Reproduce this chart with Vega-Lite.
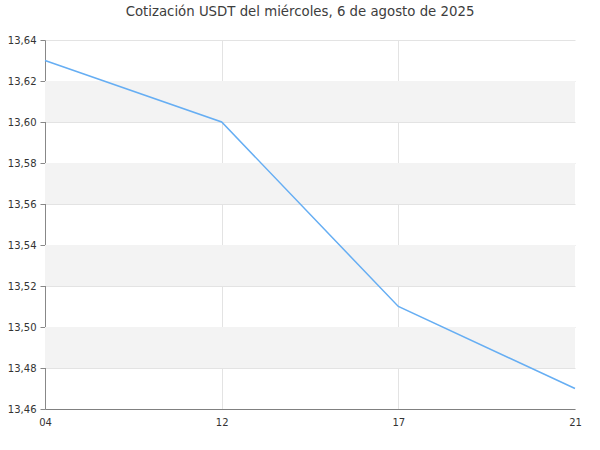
{
  "$schema": "https://vega.github.io/schema/vega-lite/v6.json",
  "width": 530,
  "height": 369,
  "autosize": {"type": "none"},
  "padding": {"left": 45, "top": 40, "right": 25, "bottom": 41},
  "background": "white",
  "title": {
    "text": "Cotización USDT del miércoles, 6 de agosto de 2025",
    "font": "DejaVu Sans",
    "fontSize": 13.3,
    "fontWeight": "normal",
    "color": "#3d3d3d",
    "anchor": "middle",
    "frame": "group",
    "dx": -10,
    "offset": 17
  },
  "config": {
    "view": {"stroke": null},
    "axis": {
      "labelFont": "DejaVu Sans",
      "labelFontSize": 10,
      "labelColor": "#333333",
      "domainColor": "#888888",
      "gridColor": "#e3e3e3",
      "tickColor": "#888888"
    }
  },
  "layer": [
    {
      "data": {"values": [
        {"desde": 13.48, "hasta": 13.50},
        {"desde": 13.52, "hasta": 13.54},
        {"desde": 13.56, "hasta": 13.58},
        {"desde": 13.60, "hasta": 13.62}
      ]},
      "mark": {"type": "rect", "color": "#f3f3f3"},
      "encoding": {
        "y": {"field": "desde", "type": "quantitative", "scale": {"domain": [13.46, 13.64], "nice": false, "zero": false}},
        "y2": {"field": "hasta"}
      }
    },
    {
      "data": {"values": [
        {"hora": "04", "precio": 13.63},
        {"hora": "12", "precio": 13.60},
        {"hora": "17", "precio": 13.51},
        {"hora": "21", "precio": 13.47}
      ]},
      "mark": {"type": "line", "color": "#66aef3", "strokeWidth": 1.5},
      "encoding": {
        "x": {
          "field": "hora",
          "type": "ordinal",
          "scale": {"type": "point", "padding": 0},
          "axis": {
            "title": null,
            "labelAngle": 0,
            "ticks": false,
            "labelPadding": 8,
            "grid": true,
            "gridOpacity": {"condition": {"test": "datum.value == '21'", "value": 0}, "value": 1},
            "domainColor": "#808080"
          }
        },
        "y": {
          "field": "precio",
          "type": "quantitative",
          "scale": {"domain": [13.46, 13.64], "nice": false, "zero": false},
          "axis": {
            "title": null,
            "values": [13.46, 13.47, 13.48, 13.49, 13.5, 13.51, 13.52, 13.53, 13.54, 13.55, 13.56, 13.57, 13.58, 13.59, 13.6, 13.61, 13.62, 13.63, 13.64],
            "labelExpr": "round(datum.value*100) % 2 == 0 ? replace(format(datum.value, '.2f'), '.', ',') : ''",
            "gridOpacity": {"condition": {"test": "round(datum.value*100) % 2 == 0", "value": 1}, "value": 0},
            "tickSize": 5,
            "labelPadding": 4,
            "labelFlush": false,
            "labelOverlap": false
          }
        }
      }
    }
  ]
}
